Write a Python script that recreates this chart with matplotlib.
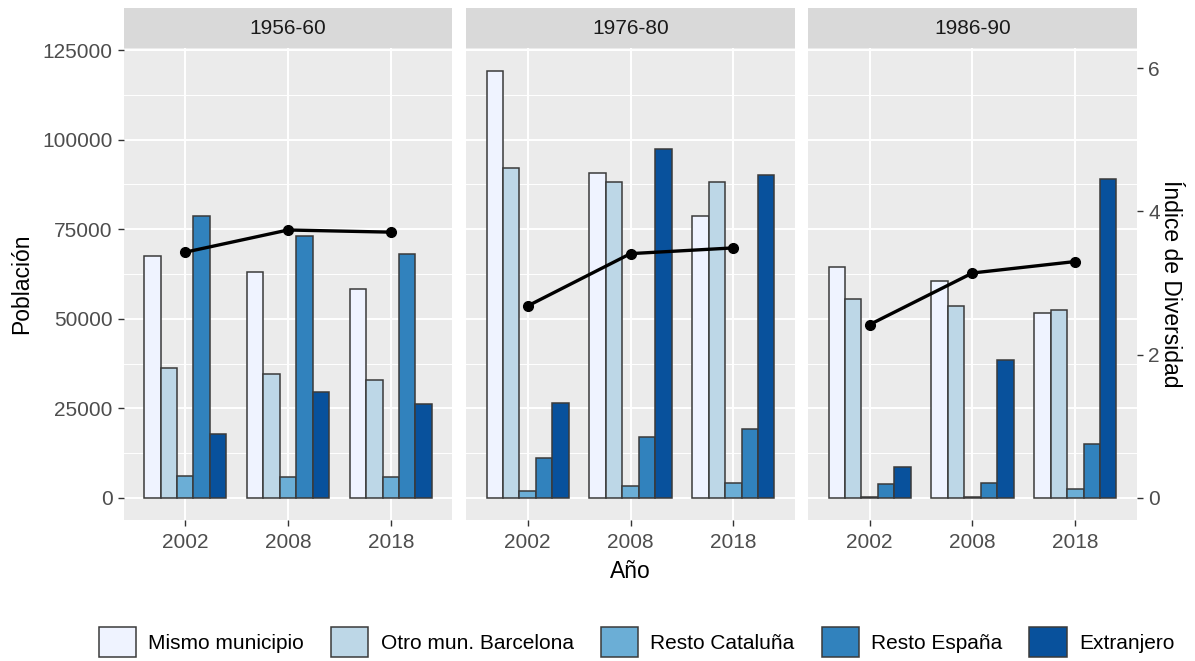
import matplotlib
matplotlib.use("Agg")
import matplotlib.pyplot as plt
import matplotlib.patches as mpatches
import numpy as np

plt.rcParams['font.family'] = ['Liberation Sans', 'DejaVu Sans']

periods = ["1956-60", "1976-80", "1986-90"]
years = ["2002", "2008", "2018"]
categories = ["Mismo municipio", "Otro mun. Barcelona", "Resto Cataluña", "Resto España", "Extranjero"]
colors = ["#EFF3FF", "#BDD7E7", "#6BAED6", "#3182BD", "#08519C"]

# population per category, for each period (rows) and year (columns)
mismo_municipio = [[67500, 63200, 58200], [119100, 90600, 78600], [64600, 60700, 51600]]
otro_mun_barcelona = [[36200, 34700, 32800], [92200, 88200, 88200], [55400, 53600, 52500]]
resto_cataluna = [[6200, 5800, 5800], [1900, 3300, 4300], [400, 400, 2400]]
resto_espana = [[78600, 73200, 68100], [11200, 17000, 19300], [3800, 4300, 15000]]
extranjero = [[17800, 29500, 26100], [26600, 97500, 90200], [8700, 38500, 88900]]
diversidad = [[3.43, 3.74, 3.71], [2.68, 3.41, 3.49], [2.42, 3.14, 3.30]]

series = [mismo_municipio, otro_mun_barcelona, resto_cataluna, resto_espana, extranjero]
sec_factor = 20000.0

W, H = 1195, 661
fig = plt.figure(figsize=(W / 100, H / 100), dpi=100)

panel_lefts = [123.5, 466, 808]
panel_w = 329
p_top, p_bot = 48, 520
s_top = 8

ylim = (-6150, 125600)
xlim = (0.4, 3.6)
x = np.arange(1, 4)
nb = len(categories)
total_w = 0.8
bw = total_w / nb

tick_color = "#333333"
label_color = "#4D4D4D"
fs = 15

for i, period in enumerate(periods):
    l = panel_lefts[i]
    ax = fig.add_axes([l / W, 1 - p_bot / H, panel_w / W, (p_bot - p_top) / H])
    ax.set_facecolor("#EBEBEB")
    for s in ax.spines.values():
        s.set_visible(False)
    ax.set_xlim(*xlim)
    ax.set_ylim(*ylim)
    yt = [0, 25000, 50000, 75000, 100000, 125000]
    ax.set_yticks(yt)
    ax.set_yticks([12500, 37500, 62500, 87500, 112500], minor=True)
    ax.set_xticks(x)
    ax.set_xticklabels(years)
    ax.grid(which='major', color='white', linewidth=1.4)
    ax.grid(which='minor', axis='y', color='white', linewidth=0.7)
    ax.set_axisbelow(True)

    for k in range(nb):
        vals = series[k][i]
        offs = x - total_w / 2 + bw * (k + 0.5)
        ax.bar(offs, vals, width=bw, color=colors[k], edgecolor="#3A3A3A", linewidth=1.1, zorder=2)

    ax2 = ax.twinx()
    for s in ax2.spines.values():
        s.set_visible(False)
    ax2.set_ylim(ylim[0] / sec_factor, ylim[1] / sec_factor)
    ax2.plot(x, diversidad[i], color='black', linewidth=2.4, marker='o', markersize=7, zorder=5)
    ax2.set_yticks([0, 2, 4, 6])

    ax.tick_params(axis='both', which='major', length=4, width=1, color=tick_color,
                   labelcolor=label_color, labelsize=fs)
    ax.tick_params(axis='x', pad=5)
    ax.tick_params(which='minor', length=0)
    if i == 0:
        ax.set_yticklabels([str(v) for v in yt])
        ax.tick_params(axis='y', pad=4, left=True, labelleft=True, right=False, labelright=False)
    else:
        ax.tick_params(axis='y', left=False, labelleft=False, right=False, labelright=False)
    if i == 2:
        ax2.tick_params(axis='y', length=4, width=1, color=tick_color, labelcolor=label_color,
                        labelsize=fs, pad=4, right=True, labelright=True, left=False, labelleft=False)
    else:
        ax2.tick_params(axis='y', right=False, labelright=False, left=False, labelleft=False)

    sax = fig.add_axes([l / W, 1 - p_top / H, panel_w / W, (p_top - s_top) / H])
    sax.set_facecolor("#D9D9D9")
    sax.set_xticks([])
    sax.set_yticks([])
    for s in sax.spines.values():
        s.set_visible(False)
    sax.text(0.5, 0.5, period, ha='center', va='center', fontsize=fs, color="#1A1A1A",
             transform=sax.transAxes)

fig.text(22 / W, 1 - 284 / H, "Población", rotation=90, ha='center', va='center', fontsize=16.5)
fig.text(630 / W, 1 - 572 / H, "Año", ha='center', va='center', fontsize=16.5)
fig.text(1171 / W, 1 - 284 / H, "Índice de Diversidad", rotation=-90, ha='center', va='center',
         fontsize=16.5)

handles = [mpatches.Patch(facecolor=c, edgecolor="#3A3A3A", linewidth=1.1) for c in colors]
fig.legend(handles, categories, loc='center', bbox_to_anchor=(636.5 / W, 1 - 642 / H), ncol=5,
           frameon=False, fontsize=fs, handlelength=1.78, handleheight=1.78,
           handletextpad=0.6, columnspacing=1.3, borderaxespad=0)

fig.savefig("out.png", dpi=100)
